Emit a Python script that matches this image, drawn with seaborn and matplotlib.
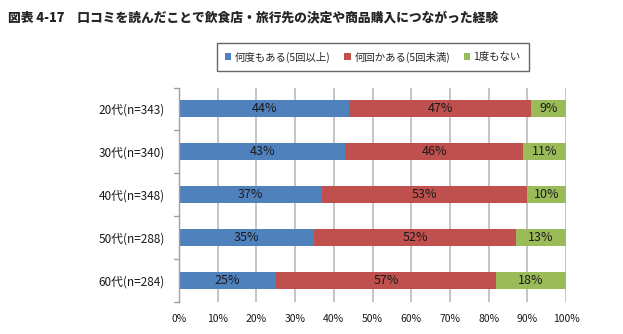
import matplotlib
matplotlib.use("Agg")
import matplotlib.pyplot as plt
import seaborn as sns
import pandas as pd
import numpy as np
from matplotlib.patches import Patch

categories = ["20代(n=343)", "30代(n=340)", "40代(n=348)", "50代(n=288)", "60代(n=284)"]
series_names = ["何度もある(5回以上)", "何回かある(5回未満)", "1度もない"]
many = [44, 43, 37, 35, 25]
some = [47, 46, 53, 52, 57]
never = [9, 11, 10, 13, 18]
xticks = [0, 10, 20, 30, 40, 50, 60, 70, 80, 90, 100]
xtick_labels = [f"{v}%" for v in xticks]
title = "図表 4-17　口コミを読んだことで飲食店・旅行先の決定や商品購入につながった経験"

colors = ["#4F81BD", "#C0504D", "#9BBB59"]

sns.set_theme(style="white")
plt.rcParams['font.family'] = ['Noto Sans CJK JP', 'DejaVu Sans']

df = pd.DataFrame({"cat": categories, "many": many, "some": some, "never": never})
df["c1"] = df["many"]
df["c2"] = df["many"] + df["some"]
df["c3"] = df["c2"] + df["never"]

fig = plt.figure(figsize=(6.23, 3.34), dpi=100)
ax = fig.add_axes([179/623, 1-301.5/334, 387/623, 214/334])

# gridlines behind
for x in xticks:
    ax.axvline(x, color="#BFBFBF", lw=1.3, zorder=0)

for col, c in zip(["c3", "c2", "c1"], colors[::-1]):
    sns.barplot(data=df, y="cat", x=col, color=c, orient="h", width=0.4,
                saturation=1, ax=ax, zorder=2, linewidth=0)

# labels
for i in range(len(categories)):
    starts = [0, many[i], many[i] + some[i]]
    vals = [many[i], some[i], never[i]]
    for s, v in zip(starts, vals):
        ax.text(s + v / 2, i, f"{v}%", ha="center", va="center", fontsize=9,
                color="#1a1a1a", zorder=3)

ax.set_xlim(0, 100)
ax.set_ylim(4.5, -0.5)
ax.set_xticks(xticks)
ax.set_xticklabels(xtick_labels, fontsize=7.5)
ax.set_xlabel("")
ax.set_ylabel("")
ax.tick_params(axis="y", length=0, labelsize=8.5, pad=10)
ax.tick_params(axis="x", length=0, pad=9)
for lab in ax.get_yticklabels():
    lab.set_color("#1a1a1a")
for lab in ax.get_xticklabels():
    lab.set_color("#1a1a1a")
for sp in ["top", "right", "bottom"]:
    ax.spines[sp].set_visible(False)
ax.spines["left"].set_color("#A0A0A0")
ax.spines["left"].set_linewidth(1.0)
# category boundary tick marks on left
for b in np.arange(-0.5, 5.0, 1.0):
    ax.plot([-1.4, 0], [b, b], color="#A0A0A0", lw=1.0, clip_on=False, zorder=1)

fig.text(8/623, 1-17/334, title, fontsize=9.2, fontweight="heavy", va="center", ha="left")

handles = [Patch(facecolor=c, edgecolor="none") for c in colors]
leg = fig.legend(handles, series_names, loc="center", bbox_to_anchor=(373/623, 1-57/334),
                 ncol=3, fontsize=7.5, frameon=True, fancybox=False, shadow=False,
                 handlelength=0.6, handleheight=0.6, handletextpad=0.35, columnspacing=1.3,
                 borderpad=0.8, borderaxespad=0)
leg.get_frame().set_edgecolor("#404040")
leg.get_frame().set_linewidth(1.0)

fig.savefig("out.png", dpi=100)
